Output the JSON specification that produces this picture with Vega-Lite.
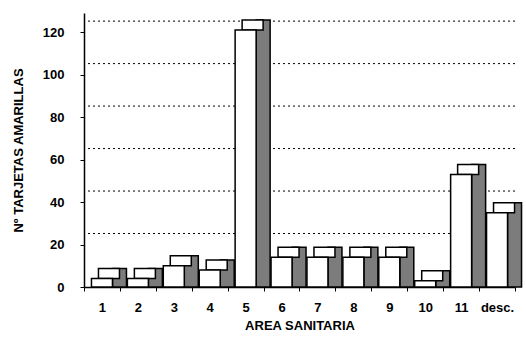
{
  "$schema": "https://vega.github.io/schema/vega-lite/v6.json",
  "width": 526,
  "height": 338,
  "autosize": {"type": "fit", "contains": "padding"},
  "padding": {"left": 12, "top": 13, "right": 7, "bottom": 6},
  "background": "white",
  "config": {
    "view": {"stroke": null},
    "font": "Liberation Sans",
    "axis": {"labelFont": "Liberation Sans", "titleFont": "Liberation Sans", "labelColor": "black", "titleColor": "black", "domainColor": "black", "tickColor": "black", "labelFontSize": 13, "titleFontSize": 13, "titleFontWeight": "bold", "labelFontWeight": "bold"}
  },
  "datasets": {
    "bars": [
      {"area": "1", "n": 4},
      {"area": "2", "n": 4},
      {"area": "3", "n": 10},
      {"area": "4", "n": 8},
      {"area": "5", "n": 121},
      {"area": "6", "n": 14},
      {"area": "7", "n": 14},
      {"area": "8", "n": 14},
      {"area": "9", "n": 14},
      {"area": "10", "n": 3},
      {"area": "11", "n": 53},
      {"area": "desc.", "n": 35}
    ],
    "grid": [{"v": 20}, {"v": 40}, {"v": 60}, {"v": 80}, {"v": 100}, {"v": 120}]
  },
  "layer": [
    {
      "data": {"name": "grid"},
      "mark": {"type": "rule", "yOffset": -11, "color": "black", "strokeDash": [2, 3], "strokeWidth": 1},
      "encoding": {
        "y": {"field": "v", "type": "quantitative", "scale": {"domain": [0, 129], "nice": false, "zero": true},
          "axis": {"orient": "left", "values": [0, 5, 10, 15, 20, 25, 30, 35, 40, 45, 50, 55, 60, 65, 70, 75, 80, 85, 90, 95, 100, 105, 110, 115, 120, 125],
            "labelExpr": "datum.value % 20 == 0 ? datum.label : ''", "tickSize": 4, "labelPadding": 16, "grid": false,
            "title": "Nº TARJETAS AMARILLAS", "titlePadding": 17, "domainWidth": 1.5}}
      }
    },
    {
      "data": {"name": "bars"},
      "mark": {"type": "bar", "width": 14, "xOffset": 17.5, "yOffset": -10, "y2Offset": 0, "fill": "#7c7c7c", "stroke": "black", "strokeWidth": 1.5},
      "encoding": {
        "x": {"field": "area", "type": "nominal", "sort": null, "scale": {"paddingInner": 0, "paddingOuter": 0},
          "axis": {"title": "AREA SANITARIA", "labelAngle": 0, "tickBand": "extent", "tickSize": 4, "labelPadding": 10, "titlePadding": 5, "domainWidth": 1.5}},
        "y": {"field": "n", "type": "quantitative"},
        "y2": {"datum": 0}
      }
    },
    {
      "data": {"name": "bars"},
      "mark": {"type": "bar", "width": 21, "xOffset": 7, "yOffset": -10, "y2Offset": 0, "fill": "white", "stroke": "black", "strokeWidth": 1.5},
      "encoding": {
        "x": {"field": "area", "type": "nominal", "sort": null},
        "y": {"field": "n", "type": "quantitative"},
        "y2": {"field": "n"}
      }
    },
    {
      "data": {"name": "bars"},
      "mark": {"type": "bar", "width": 21, "xOffset": 0, "fill": "white", "stroke": "black", "strokeWidth": 1.5},
      "encoding": {
        "x": {"field": "area", "type": "nominal", "sort": null},
        "y": {"field": "n", "type": "quantitative"}
      }
    }
  ]
}
